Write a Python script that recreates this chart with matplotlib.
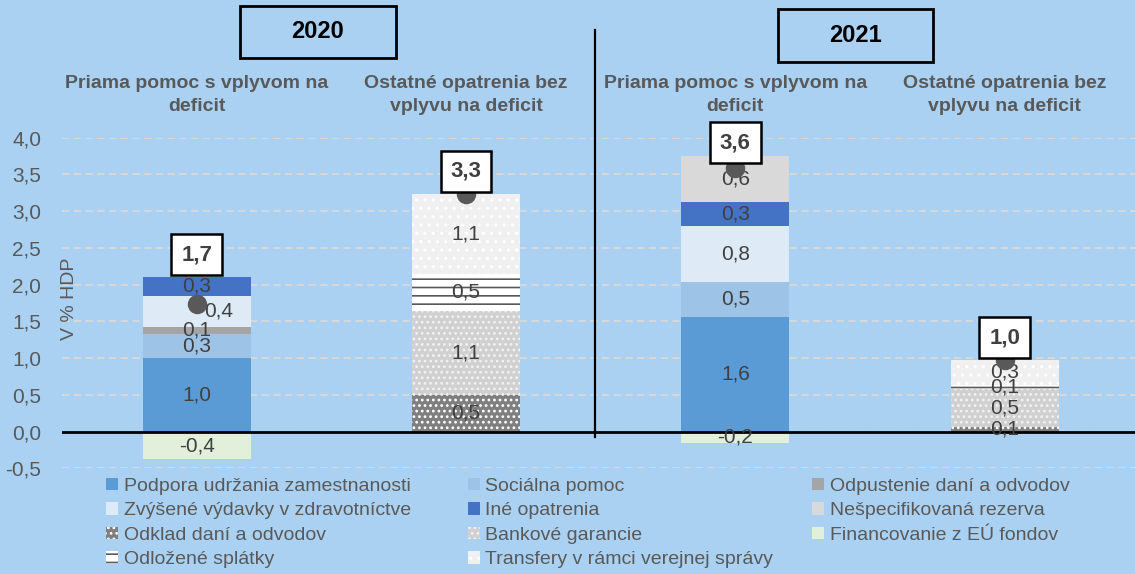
import matplotlib
matplotlib.use('agg')
import matplotlib.pyplot as plt
from matplotlib.patches import Patch, Rectangle
from matplotlib.lines import Line2D
import numpy as np

plt.rcParams['font.family'] = ['Liberation Sans', 'DejaVu Sans']
plt.rcParams['hatch.linewidth'] = 1.2

# data (% of GDP), bars: 2020 direct, 2020 other, 2021 direct, 2021 other
groups = ['Priama pomoc s vplyvom na\ndeficit', 'Ostatné opatrenia bez\nvplyvu na deficit',
          'Priama pomoc s vplyvom na\ndeficit', 'Ostatné opatrenia bez\nvplyvu na deficit']
years = ['2020', '2021']
totals_lbl = ['1,7', '3,3', '3,6', '1,0']

names = ['Podpora udržania zamestnanosti', 'Sociálna pomoc', 'Odpustenie daní a odvodov',
         'Zvýšené výdavky v zdravotníctve', 'Iné opatrenia', 'Nešpecifikovaná rezerva',
         'Odklad daní a odvodov', 'Bankové garancie', 'Odložené splátky',
         'Transfery v rámci verejnej správy', 'Financovanie z EÚ fondov']
podpora = [1.0, 0, 1.56, 0]
socialna = [0.33, 0, 0.48, 0]
odpustenie = [0.1, 0, 0, 0]
zdravotnictvo = [0.41, 0, 0.76, 0]
ine = [0.27, 0, 0.33, 0]
rezerva = [0, 0, 0.62, 0]
odklad = [0, 0.5, 0, 0.06]
garancie = [0, 1.14, 0, 0.52]
splatky = [0, 0.51, 0, 0.06]
transfery = [0, 1.09, 0, 0.34]
eu_fondy = [-0.38, 0, -0.16, 0]
values = [podpora, socialna, odpustenie, zdravotnictvo, ine, rezerva,
          odklad, garancie, splatky, transfery, eu_fondy]

styles = [
    dict(facecolor='#5B9BD5', edgecolor='#5B9BD5'),
    dict(facecolor='#9DC3E6', edgecolor='#9DC3E6'),
    dict(facecolor='#A5A5A5', edgecolor='#A5A5A5'),
    dict(facecolor='#DEEBF7', edgecolor='#DEEBF7'),
    dict(facecolor='#4472C4', edgecolor='#4472C4'),
    dict(facecolor='#D9D9D9', edgecolor='#D9D9D9'),
    dict(facecolor='#7F7F7F', edgecolor='white', hatch='...'),
    dict(facecolor='#D0D0D0', edgecolor='#F2F2F2', hatch='...'),
    dict(facecolor='white', edgecolor='#595959', hatch='--'),
    dict(facecolor='#F0F0F0', edgecolor='white', hatch='..'),
    dict(facecolor='#E2EFDA', edgecolor='#E2EFDA'),
]

bg = '#AAD1F1'
fig = plt.figure(figsize=(11.35, 5.74), dpi=100, facecolor=bg)
ax = fig.add_axes([62 / 1135, 1 - 468.3 / 574, 1 - 62 / 1135, (468.3 - 137.7) / 574])
ax.set_facecolor(bg)

x = np.arange(4)
w = 0.4
pos_bottom = np.zeros(4)
neg_bottom = np.zeros(4)
totals = np.sum(values, axis=0)
segs = []
for vals, st in zip(values, styles):
    vals = np.array(vals)
    bottom = np.where(vals >= 0, pos_bottom, neg_bottom)
    ax.bar(x, vals, w, bottom=bottom, linewidth=0, zorder=2, **st)
    for i in range(4):
        if vals[i] != 0:
            segs.append((i, bottom[i] + vals[i] / 2, vals[i]))
    pos_bottom += np.where(vals > 0, vals, 0)
    neg_bottom += np.where(vals < 0, vals, 0)

for i, yc, v in segs:
    xc = x[i]
    if abs(yc - totals[i]) < 0.1:
        xc += 0.08
    ax.text(xc, yc, f'{v:.1f}'.replace('.', ','), ha='center', va='center',
            fontsize=15, color='#404040', zorder=4)

ax.plot(x, totals, 'o', color='#595959', ms=13, zorder=5, clip_on=False)
for i in range(4):
    ax.text(x[i], min(pos_bottom[i] + 0.3, 3.93), totals_lbl[i], ha='center',
            va='center', fontsize=16, fontweight='bold', color='#404040', zorder=6,
            clip_on=False,
            bbox=dict(boxstyle='square,pad=0.45', fc='white', ec='black', lw=1.8))

ax.set_xlim(-0.5, 3.484)
ax.set_ylim(-0.5, 4.0)
yt = np.arange(-0.5, 4.01, 0.5)
ax.set_yticks(yt)
ax.set_yticklabels([f'{t:.1f}'.replace('.', ',') for t in yt])
ax.set_xticks([])
ax.tick_params(axis='y', length=0, pad=15, labelsize=15, labelcolor='#595959')
for s in ax.spines.values():
    s.set_visible(False)
ax.grid(axis='y', color='#D9D9D9', linestyle=(0, (4, 2.5)), lw=1.3, zorder=1)
ax.axhline(0, color='black', lw=2, zorder=3)

fig.text(70 / 1135, 1 - 299 / 574, 'V % HDP', rotation=90, ha='center', va='center',
         fontsize=14, color='#595959')

# group headers and year boxes
for i in range(4):
    xf = (62 + (x[i] + 0.5) * 269.3) / 1135
    fig.text(xf, 1 - 95 / 574, groups[i], ha='center', va='center', fontsize=14,
             fontweight='bold', color='#595959', linespacing=1.45)
for yr, (x0, y0, x1, y1) in zip(years, [(240, 6, 396, 58), (778, 9, 933, 62)]):
    fig.add_artist(Rectangle((x0 / 1135, 1 - y1 / 574), (x1 - x0) / 1135, (y1 - y0) / 574,
                             transform=fig.transFigure, fc='none', ec='black', lw=2))
    fig.text((x0 + x1) / 2 / 1135, 1 - (y0 + y1) / 2 / 574, yr, ha='center', va='center',
             fontsize=17, fontweight='bold', color='black')
fig.add_artist(Line2D([595 / 1135] * 2, [1 - 30 / 574, 1 - 437 / 574], color='black', lw=1.6,
                      transform=fig.transFigure))

# legend in three columns
handles = [Patch(label=n, linewidth=0, **st) for n, st in zip(names, styles)]
cols = [[0, 3, 6, 8], [1, 4, 7, 9], [2, 5, 10]]
for col, xl in zip(cols, [106, 468, 812]):
    fig.legend(handles=[handles[k] for k in col], loc='upper left',
               bbox_to_anchor=(xl / 1135, 1 - 478 / 574), frameon=False,
               prop=dict(family='Liberation Sans', size=14), labelcolor='#595959',
               borderpad=0, borderaxespad=0, handlelength=0.6, handleheight=0.6,
               handletextpad=0.3, labelspacing=0.38)

fig.savefig('out.png', dpi=100, facecolor=bg)
plt.close(fig)
